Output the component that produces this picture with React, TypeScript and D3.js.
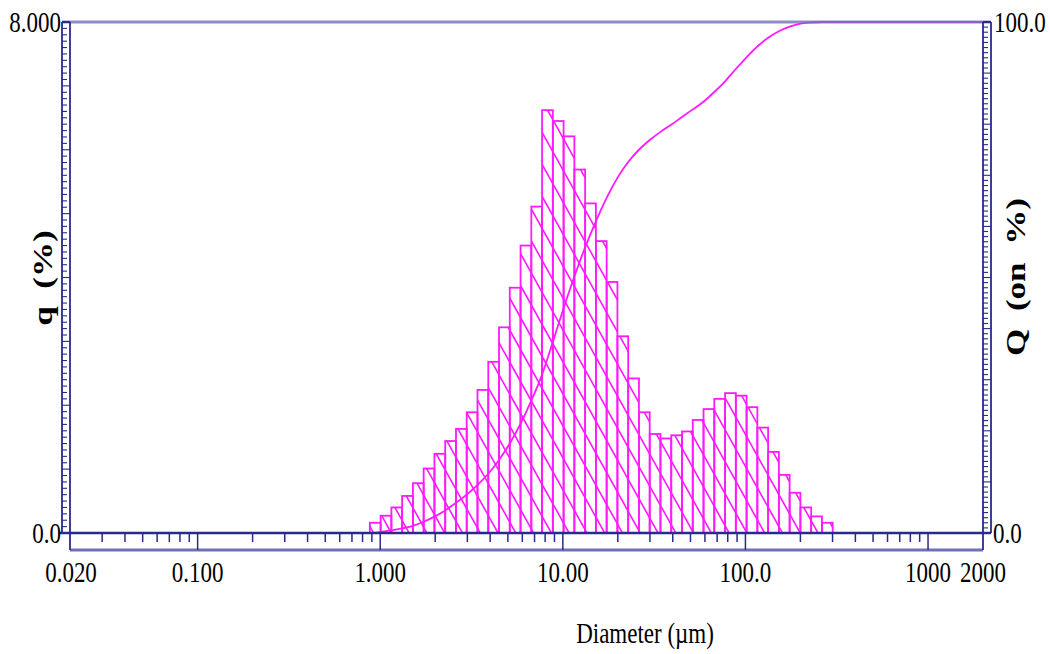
import { useEffect, useRef } from 'react'
import * as d3 from 'd3'

// bin edges of the size channels (µm)
const EDGES = [
  0.877, 1.005, 1.151, 1.318, 1.51, 1.729, 1.981, 2.269, 2.599, 2.976, 3.409,
  3.905, 4.472, 5.122, 5.867, 6.72, 7.697, 8.816, 10.097, 11.565, 13.246,
  15.172, 17.377, 19.904, 22.797, 26.111, 29.907, 34.255, 39.234, 44.938,
  51.471, 58.953, 67.523, 77.34, 88.583, 101.46, 116.21, 133.103, 152.453,
  174.616, 200, 229.075, 262.376, 300.518,
]

// frequency q (%) per channel
const Q_FREQ = [
  0.16, 0.27, 0.40, 0.58, 0.78, 1.01, 1.24, 1.44, 1.63, 1.89, 2.24, 2.68,
  3.22, 3.84, 4.50, 5.11, 6.62, 6.45, 6.21, 5.69, 5.16, 4.57, 3.93, 3.08,
  2.42, 1.89, 1.55, 1.48, 1.53, 1.59, 1.77, 1.94, 2.10, 2.19, 2.15, 1.97,
  1.65, 1.27, 0.91, 0.63, 0.40, 0.26, 0.16,
]

// cumulative Q (on %)
const CUM_D = [
  0.02, 0.877, 1.005, 1.151, 1.318, 1.51, 1.729, 1.981, 2.269, 2.599, 2.976,
  3.409, 3.905, 4.472, 5.122, 5.867, 6.72, 7.697, 8.816, 10.097, 11.565,
  13.246, 15.172, 17.377, 19.904, 22.797, 26.111, 29.907, 34.255, 39.234,
  44.938, 51.471, 58.953, 67.523, 77.34, 88.583, 101.46, 116.21, 133.103,
  152.453, 174.616, 200, 229.075, 262.376, 300.518, 2000,
]
const CUM_Q = [
  0, 0, 0.2, 0.5, 0.9, 1.4, 2.2, 3.2, 4.4, 5.9, 7.5, 9.4, 11.6, 14.3, 17.5,
  21.4, 25.9, 31.0, 37.4, 44.0, 50.2, 55.9, 61.0, 65.6, 69.5, 72.6, 75.0,
  76.9, 78.5, 79.9, 81.4, 82.9, 84.4, 86.3, 88.4, 90.8, 93.1, 95.2, 96.9,
  98.2, 99.1, 99.7, 99.9, 100, 100, 100,
]

const X_TICKS  = [0.02, 0.1, 1, 10, 100, 1000, 2000]
const X_LABELS = ['0.020', '0.100', '1.000', '10.00', '100.0', '1000', '2000']

const NAVY     = '#2a2a88'
const LAVENDER = '#7070b8'
const MAGENTA  = '#ff1aff'
const FONT     = '"Liberation Serif", "Times New Roman", serif'
const STRETCH  = 1.3

export default function App() {
  const svgRef = useRef<SVGSVGElement>(null)

  useEffect(() => {
    if (!svgRef.current) return
    const W = 1050, H = 654
    const L = 70, R = 983, T = 22, B = 533

    const svg = d3.select(svgRef.current)
    svg.selectAll('*').remove()
    svg.attr('width', W).attr('height', H)

    const x  = d3.scaleLog().domain([0.02, 2000]).range([L, R])
    const yL = d3.scaleLinear().domain([0, 8]).range([B, T])
    const yR = d3.scaleLinear().domain([0, 100]).range([B, T])

    const bars = Q_FREQ.map((q, i) => ({ x0: EDGES[i], x1: EDGES[i + 1], q }))

    // clip for the hatching
    svg.append('defs').append('clipPath').attr('id', 'barclip')
      .selectAll('rect').data(bars).enter().append('rect')
      .attr('x', d => x(d.x0)).attr('width', d => x(d.x1) - x(d.x0))
      .attr('y', d => yL(d.q)).attr('height', d => B - yL(d.q))

    // hatch lines
    const slope = 1.8, gap = 32
    const hatch = svg.append('g').attr('clip-path', 'url(#barclip)')
    for (let c = T - slope * (R - L) + 8; c < B; c += gap) {
      hatch.append('line')
        .attr('x1', L).attr('y1', c)
        .attr('x2', R).attr('y2', c + slope * (R - L))
        .attr('stroke', MAGENTA).attr('stroke-width', 1.6)
    }

    // bar outlines
    svg.append('g').selectAll('rect').data(bars).enter().append('rect')
      .attr('x', d => x(d.x0)).attr('width', d => x(d.x1) - x(d.x0))
      .attr('y', d => yL(d.q)).attr('height', d => B - yL(d.q))
      .attr('fill', 'none').attr('stroke', MAGENTA).attr('stroke-width', 1.8)

    // cumulative curve
    const pts = CUM_D.map((d, i) => [d, CUM_Q[i]] as [number, number])
    svg.append('path')
      .attr('d', d3.line<[number, number]>()
        .x(d => x(d[0])).y(d => yR(d[1]))
        .curve(d3.curveMonotoneX)(pts))
      .attr('fill', 'none').attr('stroke', MAGENTA).attr('stroke-width', 1.8)

    // frame
    const frame = svg.append('g').attr('fill', 'none')
    const seg = (x1: number, y1: number, x2: number, y2: number, col: string, sw: number, op = 1) =>
      frame.append('line').attr('x1', x1).attr('y1', y1).attr('x2', x2).attr('y2', y2)
        .attr('stroke', col).attr('stroke-width', sw).attr('stroke-opacity', op)

    seg(62, T, R + 8, T, LAVENDER, 3.2, 0.8)
    seg(62, T, 62, B, NAVY, 1.8)
    seg(L, T, L, B, NAVY, 1.8)
    seg(R, T, R, B, NAVY, 1.8)
    seg(R + 8, T, R + 8, B, NAVY, 1.8)
    seg(L, 550, R, 550, LAVENDER, 3.2)
    seg(L, B, L, 550, NAVY, 1.8)
    seg(R, B, R, 550, NAVY, 1.8)

    // bottom ticks
    for (let k = -2; k <= 3; k++) {
      for (let m = 1; m <= 9; m++) {
        const v = m * Math.pow(10, k)
        if (v <= 0.02 || v >= 2000) continue
        seg(x(v), B, x(v), m === 1 ? 550 : 542, NAVY, 1.5)
      }
    }
    // left ticks
    for (let i = 1; i < 80; i++) {
      seg(62, yL(i / 10), i % 10 === 0 ? L : 67, yL(i / 10), NAVY, 1.1)
    }
    // right ticks
    for (let i = 1; i < 100; i++) {
      seg(R, yR(i), i % 10 === 0 ? R + 8 : R + 5, yR(i), NAVY, 1.1)
    }
    seg(60, B, R + 8, B, NAVY, 2.4)
    seg(62, T, L, T, NAVY, 2)
    seg(R, T, R + 8, T, NAVY, 2)

    // labels
    const txt = svg.append('g').attr('font-family', FONT).attr('font-size', 23).attr('fill', '#000')
    const label = (s: string, px: number, py: number, anchor: string, base = 'auto') =>
      txt.append('text')
        .attr('transform', `translate(${px},${py}) scale(1,${STRETCH})`)
        .attr('text-anchor', anchor).attr('dominant-baseline', base)
        .text(s)

    X_TICKS.forEach((v, i) => label(X_LABELS[i], x(v) + (i === 0 ? 1 : 0), 582, 'middle'))
    label('8.000', 61, T, 'end', 'central')
    label('0.0', 61, B, 'end', 'central')
    label('100.0', 994, T, 'start', 'central')
    label('0.0', 993, B, 'start', 'central')
    label('Diameter (µm)', 645, 643, 'middle')

    const title = (s: string, px: number, py: number) =>
      txt.append('text')
        .attr('transform', `translate(${px},${py}) rotate(-90) scale(${STRETCH},1)`)
        .attr('text-anchor', 'middle').attr('dominant-baseline', 'central')
        .attr('font-weight', 'bold').attr('font-size', 27)
        .style('white-space', 'pre')
        .text(s)
    title('q  (%)', 43, 278)
    title('Q  (on  %)', 1016, 277)
  }, [])

  return (
    <svg ref={svgRef} style={{ position: 'absolute', left: 0, top: 0, background: '#fff', display: 'block' }} />
  )
}
